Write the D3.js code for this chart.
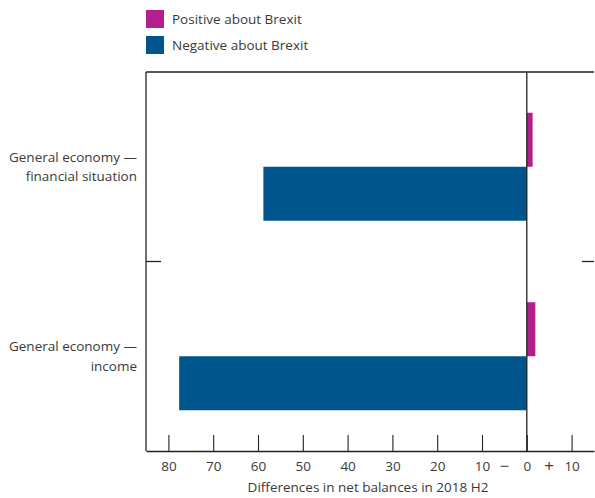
<!DOCTYPE html>
<html>
<head>
<meta charset="utf-8">
<script src="https://cdn.jsdelivr.net/npm/d3@7"></script>
<style>
  body { margin: 0; background: #fff; }
  svg text { font-family: "Open Sans", Lato, sans-serif; fill: #3a3a3a; }
</style>
</head>
<body>
<svg id="chart"></svg>
<script>
// categories, two label lines each
const categories = ['financial', 'income'];
const categoryLines = [
  ['General economy \u2014', 'financial situation'],
  ['General economy \u2014', 'income']
];
// series values (net balance differences)
const positive = [1.3, 1.9];
const negative = [-58.8, -77.6];
const seriesNames = ['Positive about Brexit', 'Negative about Brexit'];
const seriesColors = ['#b3208e', '#00568c'];
const tickValues = [-80, -70, -60, -50, -40, -30, -20, -10, 0, 10];

const width = 595, height = 498;
const marginTop = 72, marginRight = 1, marginBottom = 47, marginLeft = 146;
const fontSize = 13.5;

const svg = d3.select('#chart')
  .attr('width', width)
  .attr('height', height)
  .attr('viewBox', [0, 0, width, height]);

const xScale = d3.scaleLinear([-85, 15], [marginLeft, width - marginRight]);
const yScale = d3.scaleBand(categories, [marginTop, height - marginBottom])
  .paddingInner(0).paddingOuter(0);
const barH = 54;

// Legend
const legend = svg.append('g');
seriesNames.forEach((name, i) => {
  legend.append('rect')
    .attr('x', 146).attr('y', 10 + i * 26)
    .attr('width', 18).attr('height', 18)
    .attr('fill', seriesColors[i]);
  legend.append('text')
    .attr('x', 172).attr('y', 24 + i * 26)
    .attr('font-size', fontSize)
    .text(name);
});

// Bars
const center = c => yScale(c) + yScale.bandwidth() / 2;
svg.append('g')
  .selectAll('rect')
  .data(categories)
  .join('rect')
    .attr('fill', seriesColors[0])
    .attr('x', xScale(0))
    .attr('y', c => center(c) - barH)
    .attr('width', (c, i) => xScale(positive[i]) - xScale(0))
    .attr('height', barH);

svg.append('g')
  .selectAll('rect')
  .data(categories)
  .join('rect')
    .attr('fill', seriesColors[1])
    .attr('x', (c, i) => xScale(negative[i]))
    .attr('y', c => center(c))
    .attr('width', (c, i) => xScale(0) - xScale(negative[i]))
    .attr('height', barH);

// Frame: top, left, zero line
const y0 = marginTop, y1 = height - marginBottom;
svg.append('line')
  .attr('x1', marginLeft).attr('x2', width - marginRight)
  .attr('y1', y0).attr('y2', y0)
  .attr('stroke', '#222').attr('stroke-width', 1.3);
svg.append('line')
  .attr('x1', marginLeft).attr('x2', marginLeft)
  .attr('y1', y0).attr('y2', y1)
  .attr('stroke', '#222').attr('stroke-width', 1.3);
svg.append('line')
  .attr('x1', xScale(0)).attr('x2', xScale(0))
  .attr('y1', y0).attr('y2', y1)
  .attr('stroke', '#222').attr('stroke-width', 1.3);

// Category separator ticks
const sepY = yScale(categories[1]);
svg.append('line')
  .attr('x1', marginLeft).attr('x2', marginLeft + 15)
  .attr('y1', sepY).attr('y2', sepY)
  .attr('stroke', '#222').attr('stroke-width', 1.3);
svg.append('line')
  .attr('x1', width - marginRight - 12).attr('x2', width - marginRight)
  .attr('y1', sepY).attr('y2', sepY)
  .attr('stroke', '#222').attr('stroke-width', 1.3);

// Category labels
categories.forEach((c, i) => {
  const t = svg.append('text')
    .attr('text-anchor', 'end')
    .attr('font-size', fontSize)
    .attr('x', 137)
    .attr('y', center(c) - 5);
  categoryLines[i].forEach((line, j) => {
    t.append('tspan').attr('x', 137).attr('dy', j ? 19.5 : 0).text(line);
  });
});

// X axis
const xAxis = svg.append('g')
  .attr('transform', `translate(0,${y1})`)
  .call(d3.axisBottom(xScale)
    .tickValues(tickValues)
    .tickFormat(d => Math.abs(d))
    .tickSize(-16)
    .tickSizeOuter(0)
    .tickPadding(10));
xAxis.select('.domain').attr('stroke', '#222').attr('stroke-width', 1.3);
xAxis.selectAll('.tick line').attr('stroke', '#222').attr('stroke-width', 1.1);
xAxis.selectAll('.tick text')
  .attr('font-size', fontSize)
  .attr('font-family', '"Open Sans", Lato, sans-serif')
  .attr('fill', '#3a3a3a');

// sign markers
[[-5, '\u2212'], [5, '+']].forEach(([v, s]) => {
  svg.append('text')
    .attr('x', xScale(v)).attr('y', y1 + 21)
    .attr('text-anchor', 'middle')
    .attr('font-size', 17)
    .text(s);
});

// Axis title
svg.append('text')
  .attr('x', 368)
  .attr('y', 492)
  .attr('text-anchor', 'middle')
  .attr('font-size', fontSize)
  .text('Differences in net balances in 2018 H2');
</script>
</body>
</html>
